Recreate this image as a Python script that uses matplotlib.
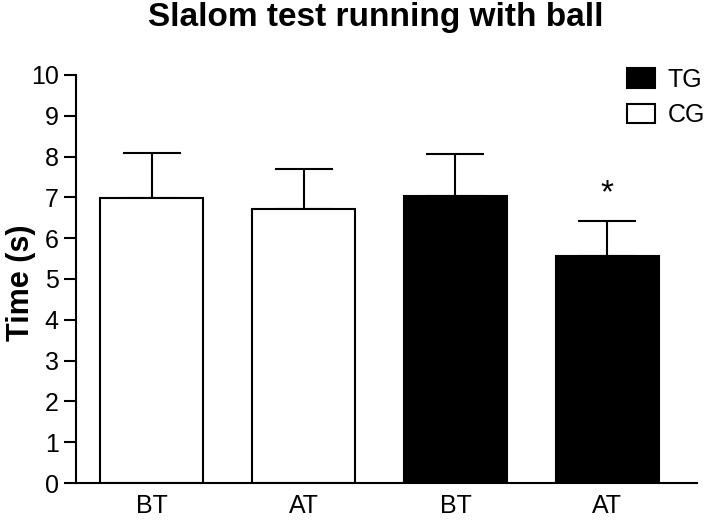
import numpy as np
import matplotlib.pyplot as plt
from matplotlib.patches import Patch

plt.rcParams['font.family'] = ['Liberation Sans', 'DejaVu Sans']

labels = ["BT", "AT", "BT", "AT"]
means = [6.98, 6.71, 7.04, 5.56]
sds = [1.11, 0.99, 1.03, 0.86]
groups = ["CG", "CG", "TG", "TG"]
sig = [False, False, False, True]

colors = {"TG": "black", "CG": "white"}

fig = plt.figure(figsize=(7.09, 5.2), dpi=100)
ax = fig.add_axes([0.107, 0.071, 0.876, 0.785])

x = np.arange(len(labels))
ax.bar(x, means, width=0.68, color=[colors[g] for g in groups],
       edgecolor="black", linewidth=1.5, zorder=2)
ax.errorbar(x, means, yerr=[np.zeros(len(sds)), sds], fmt="none",
            ecolor="black", elinewidth=1.5, capsize=21, capthick=1.5, zorder=1)
for xi, m, s, flag in zip(x, means, sds, sig):
    if flag:
        ax.text(xi, m + s + 0.3, "*", ha="center", va="bottom", fontsize=24)

ax.set_xlim(-0.5, 3.59)
ax.set_ylim(0, 10)
ax.set_yticks(range(0, 11))
ax.set_xticks(x)
ax.set_xticklabels(labels)
ax.tick_params(axis="y", labelsize=18, length=9, width=1.5)
ax.tick_params(axis="x", labelsize=18, length=0, pad=8)
for side in ["top", "right"]:
    ax.spines[side].set_visible(False)
for side in ["left", "bottom"]:
    ax.spines[side].set_linewidth(1.5)

ax.set_ylabel("Time (s)", fontsize=22, fontweight="bold")
ax.yaxis.set_label_coords(-0.064, 0.49)
fig.text(0.53, 1 - 26 / 520, "Slalom test running with ball", ha="center",
         va="baseline", fontsize=24, fontweight="bold")

handles = [Patch(facecolor="black", edgecolor="black", linewidth=1.5, label="TG"),
           Patch(facecolor="white", edgecolor="black", linewidth=1.5, label="CG")]
fig.legend(handles=handles, loc="upper left", bbox_to_anchor=(627 / 709, 1 - 68 / 520),
           frameon=False, fontsize=18, handlelength=1.12, handleheight=0.84,
           handletextpad=0.5, labelspacing=0.45, borderpad=0, borderaxespad=0)

fig.savefig("out.png", dpi=100)
